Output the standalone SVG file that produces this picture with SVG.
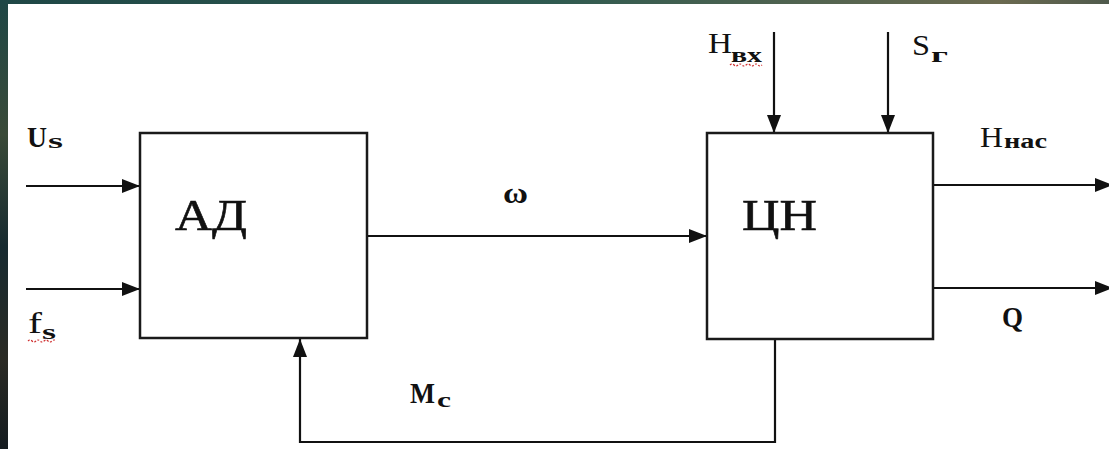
<svg xmlns="http://www.w3.org/2000/svg" width="1109" height="449" viewBox="0 0 1109 449">
<defs>
<linearGradient id="bgTop" x1="0" y1="0" x2="1" y2="0">
<stop offset="0" stop-color="#1f4746"/>
<stop offset="0.5" stop-color="#2f5a50"/>
<stop offset="0.9" stop-color="#6b6a50"/>
<stop offset="1" stop-color="#4f5a4c"/>
</linearGradient>
<linearGradient id="bgLeft" x1="0" y1="0" x2="0" y2="1">
<stop offset="0" stop-color="#1f4746"/>
<stop offset="0.3" stop-color="#3a4a38"/>
<stop offset="0.55" stop-color="#172a30"/>
<stop offset="0.8" stop-color="#2a2a24"/>
<stop offset="1" stop-color="#151c20"/>
</linearGradient>
<marker id="arr" markerUnits="userSpaceOnUse" markerWidth="20" markerHeight="16" refX="18" refY="7" orient="auto">
<path d="M0,0 L18,7 L0,14 Z" fill="#111"/>
</marker>
<style>
.box{fill:#fff;stroke:#1a1a1a;stroke-width:2.5}
.ln{fill:none;stroke:#111;stroke-width:2.2}
.sq{fill:none;stroke:#d03030;stroke-width:1.2;stroke-dasharray:2 1.5}
</style>
</defs>
<rect x="0" y="0" width="1109" height="449" fill="url(#bgLeft)"/>
<rect x="0" y="0" width="1109" height="4" fill="url(#bgTop)"/>
<rect x="8" y="4" width="1101" height="445" fill="#fff"/>

<g id="connectors">
<line class="ln" x1="26" y1="186" x2="140" y2="186" marker-end="url(#arr)"/>
<line class="ln" x1="26" y1="289" x2="140" y2="289" marker-end="url(#arr)"/>
<line class="ln" x1="367" y1="236" x2="707" y2="236" marker-end="url(#arr)"/>
<line class="ln" x1="774" y1="32" x2="774" y2="133" marker-end="url(#arr)"/>
<line class="ln" x1="888" y1="32" x2="888" y2="133" marker-end="url(#arr)"/>
<line class="ln" x1="933" y1="185" x2="1113" y2="185" marker-end="url(#arr)"/>
<line class="ln" x1="933" y1="288" x2="1113" y2="288" marker-end="url(#arr)"/>
<polyline class="ln" points="775,339 775,442 300,442 300,339" marker-end="url(#arr)"/>
</g>

<g id="node-AD">
<rect class="box" x="140" y="133" width="227" height="205"/>
<text x="175" y="230" font-family="'Liberation Serif', 'DejaVu Serif', serif" font-size="45" fill="#111" stroke="#111" stroke-width="0.6" textLength="72" lengthAdjust="spacingAndGlyphs">АД</text>
</g>

<g id="node-CN">
<rect class="box" x="707" y="133" width="226" height="206"/>
<text x="742" y="230" font-family="'Liberation Serif', 'DejaVu Serif', serif" font-size="45" fill="#111" stroke="#111" stroke-width="0.6" textLength="75" lengthAdjust="spacingAndGlyphs">ЦН</text>
</g>

<g id="labels" font-family="'Liberation Serif', 'DejaVu Serif', serif" font-weight="bold" fill="#111">
<text x="27" y="147" font-size="29" textLength="20" lengthAdjust="spacingAndGlyphs">U</text>
<text x="48" y="148" font-size="20" textLength="15" lengthAdjust="spacingAndGlyphs">s</text>

<text x="28" y="333" font-size="30" font-weight="normal" textLength="14" lengthAdjust="spacingAndGlyphs">f</text>
<text x="42" y="339" font-size="20" textLength="14" lengthAdjust="spacingAndGlyphs">s</text>
<path class="sq" d="M28,341 q2,-2 4,0 t4,0 t4,0 t4,0 t4,0 t4,0 t4,0"/>

<text x="708" y="53" font-size="29" font-weight="normal" textLength="24" lengthAdjust="spacingAndGlyphs">H</text>
<text x="731" y="62" font-size="20" textLength="31" lengthAdjust="spacingAndGlyphs">вх</text>
<path class="sq" d="M730,65 q2,-2 4,0 t4,0 t4,0 t4,0 t4,0 t4,0 t4,0 t4,0"/>

<text x="912" y="55" font-size="29" font-weight="normal" textLength="18" lengthAdjust="spacingAndGlyphs">S</text>
<text x="931" y="62" font-size="20" textLength="17" lengthAdjust="spacingAndGlyphs">г</text>

<text x="980" y="147" font-size="29" font-weight="normal" textLength="23" lengthAdjust="spacingAndGlyphs">H</text>
<text x="1004" y="148" font-size="20" textLength="43" lengthAdjust="spacingAndGlyphs">нас</text>

<text x="1002" y="327" font-size="29" textLength="21" lengthAdjust="spacingAndGlyphs">Q</text>

<text x="503" y="203" font-size="29" textLength="25" lengthAdjust="spacingAndGlyphs">ω</text>

<text x="410" y="403" font-size="29" textLength="25" lengthAdjust="spacingAndGlyphs">M</text>
<text x="437" y="407" font-size="20" textLength="14" lengthAdjust="spacingAndGlyphs">c</text>
</g>
</svg>
